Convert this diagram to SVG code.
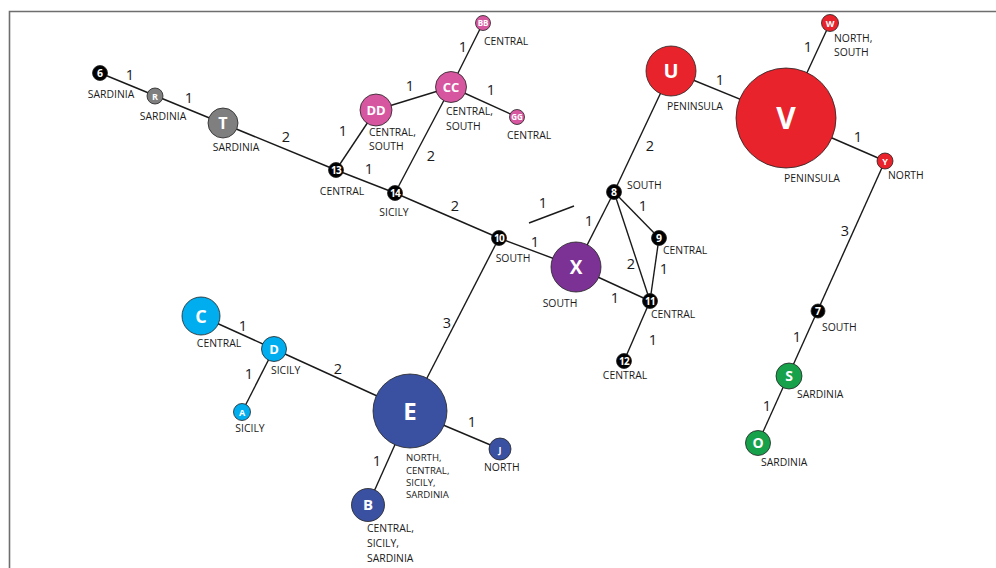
<svg xmlns="http://www.w3.org/2000/svg" width="996" height="568" viewBox="0 0 996 568">
<style>
.bg{fill:#fff}
.frame{fill:none;stroke:#6e6e6e;stroke-width:1.6}
.e{stroke:#1a1a1a;stroke-width:1.4;fill:none}
.n{stroke:#222;stroke-width:0.8}
.blk{fill:#000}
.gry{fill:#7f7f7f}
.pnk{fill:#d6569f}
.pur{fill:#7b3294}
.red{fill:#e8232b}
.grn{fill:#17a14b}
.cyn{fill:#00aeef}
.blu{fill:#3a51a2}
.lb{font-family:"Open Sans","Liberation Sans",sans-serif;font-size:14.5px;fill:#1a1a1a;text-anchor:middle}
.t{font-family:"Open Sans","Liberation Sans",sans-serif;font-size:10.4px;fill:#1a1a1a}
.ts{font-family:"Open Sans","Liberation Sans",sans-serif;font-size:9.6px;fill:#1a1a1a}
.w{font-family:"Open Sans","Liberation Sans",sans-serif;fill:#fff;font-weight:bold;text-anchor:middle}
</style>
<rect class="bg" x="0" y="0" width="996" height="568"/>
<path class="frame" d="M9.5,568 V11.5 H996"/>
<g id="connectors">
<line class="e" x1="100" y1="73" x2="336" y2="170"/>
<line class="e" x1="336" y1="170" x2="376" y2="110"/>
<line class="e" x1="376" y1="110" x2="451" y2="87"/>
<line class="e" x1="451" y1="87" x2="483" y2="23"/>
<line class="e" x1="451" y1="87" x2="517" y2="117"/>
<line class="e" x1="451" y1="87" x2="395" y2="193"/>
<line class="e" x1="336" y1="170" x2="395" y2="193"/>
<line class="e" x1="395" y1="193" x2="499" y2="238"/>
<line class="e" x1="499" y1="238" x2="576" y2="267"/>
<line class="e" x1="499" y1="238" x2="410" y2="411"/>
<line class="e" x1="529" y1="223" x2="574" y2="206"/>
<line class="e" x1="576" y1="267" x2="614" y2="192"/>
<line class="e" x1="576" y1="267" x2="650" y2="301"/>
<line class="e" x1="614" y1="192" x2="659" y2="238"/>
<line class="e" x1="614" y1="192" x2="650" y2="301"/>
<line class="e" x1="659" y1="238" x2="650" y2="301"/>
<line class="e" x1="650" y1="301" x2="624" y2="361"/>
<line class="e" x1="614" y1="192" x2="671" y2="71"/>
<line class="e" x1="671" y1="71" x2="786" y2="118"/>
<line class="e" x1="786" y1="118" x2="830" y2="23"/>
<line class="e" x1="786" y1="118" x2="885" y2="161"/>
<line class="e" x1="885" y1="161" x2="758" y2="443"/>
<line class="e" x1="201" y1="316" x2="274" y2="349"/>
<line class="e" x1="274" y1="349" x2="242" y2="412"/>
<line class="e" x1="274" y1="349" x2="410" y2="411"/>
<line class="e" x1="410" y1="411" x2="500" y2="449"/>
<line class="e" x1="410" y1="411" x2="368" y2="505"/>
<text class="lb" x="130" y="80">1</text>
<text class="lb" x="189" y="103">1</text>
<text class="lb" x="286" y="142">2</text>
<text class="lb" x="343" y="136">1</text>
<text class="lb" x="369" y="174">1</text>
<text class="lb" x="410" y="91">1</text>
<text class="lb" x="463" y="52">1</text>
<text class="lb" x="491" y="95">1</text>
<text class="lb" x="431" y="161">2</text>
<text class="lb" x="455" y="211">2</text>
<text class="lb" x="543" y="208">1</text>
<text class="lb" x="535" y="247">1</text>
<text class="lb" x="447" y="328">3</text>
<text class="lb" x="589" y="226">1</text>
<text class="lb" x="643" y="211">1</text>
<text class="lb" x="631" y="269">2</text>
<text class="lb" x="664" y="274">1</text>
<text class="lb" x="615" y="303">1</text>
<text class="lb" x="653" y="345">1</text>
<text class="lb" x="650" y="151">2</text>
<text class="lb" x="720" y="85">1</text>
<text class="lb" x="808" y="52">1</text>
<text class="lb" x="858" y="142">1</text>
<text class="lb" x="845" y="236">3</text>
<text class="lb" x="797" y="342">1</text>
<text class="lb" x="767" y="411">1</text>
<text class="lb" x="243" y="331">1</text>
<text class="lb" x="249" y="379">1</text>
<text class="lb" x="338" y="374">2</text>
<text class="lb" x="472" y="427">1</text>
<text class="lb" x="377" y="466">1</text>
</g>
<g id="n6"><circle class="n blk" cx="100" cy="73" r="7.5"/><text class="w" x="100" y="77" font-size="10.5">6</text><text class="t" x="111" y="98" text-anchor="middle">SARDINIA</text></g>
<g id="nR"><circle class="n gry" cx="155" cy="96" r="8"/><text class="w" x="155" y="99.5" font-size="9">R</text><text class="t" x="163" y="120" text-anchor="middle">SARDINIA</text></g>
<g id="nT"><circle class="n gry" cx="223" cy="123" r="15"/><text class="w" x="223" y="129" font-size="16">T</text><text class="t" x="236" y="151" text-anchor="middle">SARDINIA</text></g>
<g id="n13"><circle class="n blk" cx="336" cy="170" r="7.5"/><text class="w" x="336" y="174" font-size="10" letter-spacing="-0.8">13</text><text class="t" x="342" y="195" text-anchor="middle">CENTRAL</text></g>
<g id="n14"><circle class="n blk" cx="395" cy="193" r="7.5"/><text class="w" x="395" y="197" font-size="10" letter-spacing="-0.8">14</text><text class="t" x="394" y="216" text-anchor="middle">SICILY</text></g>
<g id="nDD"><circle class="n pnk" cx="376" cy="110" r="16"/><text class="w" x="376" y="115" font-size="13">DD</text><text class="t" x="369" y="136">CENTRAL,</text><text class="t" x="369" y="150">SOUTH</text></g>
<g id="nCC"><circle class="n pnk" cx="451" cy="87" r="15.5"/><text class="w" x="451" y="92" font-size="13">CC</text><text class="t" x="446" y="115">CENTRAL,</text><text class="t" x="446" y="130">SOUTH</text></g>
<g id="nBB"><circle class="n pnk" cx="483" cy="23" r="7.5"/><text class="w" x="483" y="26" font-size="8">BB</text><text class="t" x="484" y="45">CENTRAL</text></g>
<g id="nGG"><circle class="n pnk" cx="517" cy="117" r="7.5"/><text class="w" x="517" y="120" font-size="8">GG</text><text class="t" x="507" y="139">CENTRAL</text></g>
<g id="n10"><circle class="n blk" cx="499" cy="238" r="7.5"/><text class="w" x="499" y="242" font-size="10" letter-spacing="-0.8">10</text><text class="t" x="513" y="262" text-anchor="middle">SOUTH</text></g>
<g id="nX"><circle class="n pur" cx="576" cy="267" r="25"/><text class="w" x="576" y="274" font-size="19">X</text><text class="t" x="560" y="307" text-anchor="middle">SOUTH</text></g>
<g id="n8"><circle class="n blk" cx="614" cy="192" r="7.5"/><text class="w" x="614" y="196" font-size="10.5">8</text><text class="t" x="627" y="189">SOUTH</text></g>
<g id="n9"><circle class="n blk" cx="659" cy="238" r="7.5"/><text class="w" x="659" y="242" font-size="10.5">9</text><text class="t" x="663" y="254">CENTRAL</text></g>
<g id="n11"><circle class="n blk" cx="650" cy="301" r="7.5"/><text class="w" x="650" y="305" font-size="10" letter-spacing="-0.8">11</text><text class="t" x="651" y="318">CENTRAL</text></g>
<g id="n12"><circle class="n blk" cx="624" cy="361" r="7.5"/><text class="w" x="624" y="365" font-size="10" letter-spacing="-0.8">12</text><text class="t" x="625" y="379" text-anchor="middle">CENTRAL</text></g>
<g id="nU"><circle class="n red" cx="671" cy="71" r="25"/><text class="w" x="671" y="78" font-size="20">U</text><text class="t" x="695" y="110" text-anchor="middle">PENINSULA</text></g>
<g id="nV"><circle class="n red" cx="786" cy="118" r="50"/><text class="w" x="786" y="129" font-size="30">V</text><text class="t" x="812" y="182" text-anchor="middle">PENINSULA</text></g>
<g id="nW"><circle class="n red" cx="830" cy="23" r="8.5"/><text class="w" x="830" y="26.5" font-size="9">W</text><text class="t" x="834" y="42">NORTH,</text><text class="t" x="834" y="56">SOUTH</text></g>
<g id="nY"><circle class="n red" cx="885" cy="161" r="8"/><text class="w" x="885" y="164.5" font-size="9">Y</text><text class="t" x="888" y="179">NORTH</text></g>
<g id="n7"><circle class="n blk" cx="818" cy="311" r="7"/><text class="w" x="818" y="315" font-size="10.5">7</text><text class="t" x="822" y="331">SOUTH</text></g>
<g id="nS"><circle class="n grn" cx="789" cy="376" r="13"/><text class="w" x="789" y="381" font-size="14">S</text><text class="t" x="797" y="398">SARDINIA</text></g>
<g id="nO"><circle class="n grn" cx="758" cy="443" r="12.5"/><text class="w" x="758" y="448" font-size="14">O</text><text class="t" x="761" y="466">SARDINIA</text></g>
<g id="nC"><circle class="n cyn" cx="201" cy="316" r="19"/><text class="w" x="201" y="322.5" font-size="18">C</text><text class="t" x="219" y="347" text-anchor="middle">CENTRAL</text></g>
<g id="nD"><circle class="n cyn" cx="274" cy="349" r="12.5"/><text class="w" x="274" y="354" font-size="13">D</text><text class="t" x="271" y="374">SICILY</text></g>
<g id="nA"><circle class="n cyn" cx="242" cy="412" r="8.5"/><text class="w" x="242" y="415.5" font-size="9">A</text><text class="t" x="250" y="432" text-anchor="middle">SICILY</text></g>
<g id="nE"><circle class="n blu" cx="410" cy="411" r="37"/><text class="w" x="410" y="420" font-size="24">E</text><text class="ts" x="406" y="461">NORTH,</text><text class="ts" x="406" y="474">CENTRAL,</text><text class="ts" x="406" y="486">SICILY,</text><text class="ts" x="406" y="498">SARDINIA</text></g>
<g id="nJ"><circle class="n blu" cx="500" cy="449" r="11"/><text class="w" x="500" y="452.5" font-size="9" font-weight="normal">J</text><text class="t" x="484" y="471">NORTH</text></g>
<g id="nB"><circle class="n blu" cx="368" cy="505" r="16.5"/><text class="w" x="368" y="510" font-size="15" font-weight="normal">B</text><text class="t" x="367" y="532">CENTRAL,</text><text class="t" x="367" y="547">SICILY,</text><text class="t" x="367" y="562">SARDINIA</text></g>
</svg>
